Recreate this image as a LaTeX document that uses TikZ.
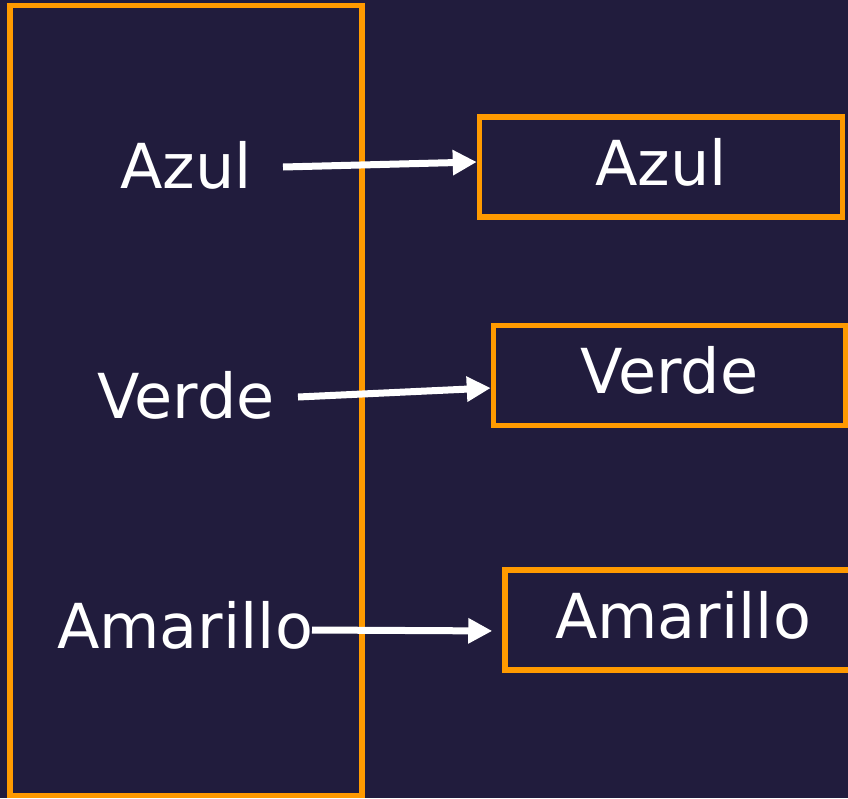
\documentclass[tikz,border=0pt]{standalone}
\usepackage{fontspec}
\setmainfont{DejaVu Sans}
\usetikzlibrary{arrows.meta}
\definecolor{bg}{HTML}{211C3D}
\definecolor{org}{HTML}{FF9A00}
\begin{document}
\begin{tikzpicture}[x=1pt,y=-1pt,
  txt/.style={text=white,font=\fontsize{62}{70}\selectfont,inner sep=0pt},
  box/.style={draw=org,line width=5.5pt,fill=bg,minimum height=100pt,text=white,
    font=\fontsize{62}{70}\selectfont,inner sep=0pt,text height=47pt,text depth=11pt},
  arr/.style={draw=white,line width=7pt,-{Triangle[length=24pt,width=24pt]}}]
\fill[bg] (0,0) rectangle (848,798);
\useasboundingbox (0,0) rectangle (848,798);
\node[draw=org,line width=5.5pt,minimum width=352pt,minimum height=790pt,inner sep=0pt] (frame) at (186,400.5) {};
\node[txt,anchor=base] (la) at (186,188) {Azul};
\node[txt,anchor=base] (lv) at (186,418) {Verde};
\node[txt,anchor=base] (lm) at (185,648) {Amarillo};
\node[box,minimum width=363pt] (ba) at (661,167) {Azul};
\node[box,minimum width=352pt] (bv) at (669.5,375.5) {Verde};
\node[box,minimum width=356pt] (bm) at (683,620) {Amarillo};
\coordinate (sa) at (283,167);
\coordinate (sv) at (298,397);
\coordinate (sm) at (312,630);
\draw[arr] (sa) -- ([yshift=5pt]ba.west);
\draw[arr] (sv) -- ([yshift=-12.5pt]bv.west);
\draw[arr,shorten >=10pt] (sm) -- ([yshift=-11pt]bm.west);
\end{tikzpicture}
\end{document}
